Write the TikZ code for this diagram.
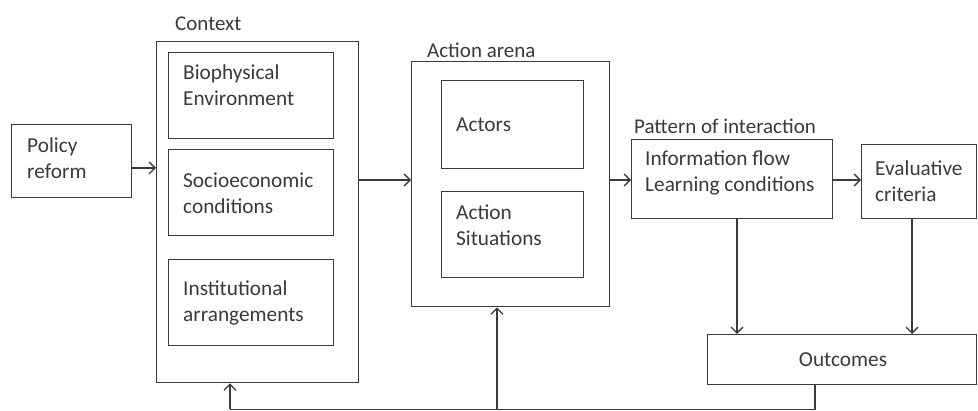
\documentclass[tikz,border=0pt]{standalone}
\usepackage{fontspec}
\setmainfont{Carlito}
\usetikzlibrary{arrows.meta,calc}
\definecolor{ink}{HTML}{3A3A3A}
\begin{document}
\begin{tikzpicture}[x=1pt,y=-1pt,
  box/.style={draw=ink,line width=1.4pt,anchor=north west,inner sep=0pt},
  txt/.style={anchor=west,align=left,inner sep=0pt,text=ink,font=\fontsize{21.3}{26.5}\selectfont},
  lbl/.style={anchor=west,inner sep=0pt,text=ink,font=\fontsize{21}{25}\selectfont},
  arr/.style={draw=ink,line width=1.3pt,-{Straight Barb[length=6pt,width=12pt,line width=1.3pt]}},
  ln/.style={draw=ink,line width=1.3pt}]
\useasboundingbox (0,0) rectangle (978,411);
% boxes
\node[box,minimum width=120pt,minimum height=73pt] (policy) at (11,124) {};
\node[box,minimum width=202pt,minimum height=341pt] (context) at (156,41) {};
\node[box,minimum width=165pt,minimum height=86pt] (bio) at (168,52) {};
\node[box,minimum width=165pt,minimum height=86pt] (socio) at (168,149) {};
\node[box,minimum width=165pt,minimum height=86pt] (inst) at (168,259) {};
\node[box,minimum width=198pt,minimum height=245pt] (arena) at (411,61) {};
\node[box,minimum width=142pt,minimum height=88pt] (actors) at (441,80) {};
\node[box,minimum width=142pt,minimum height=86pt] (situ) at (441,191) {};
\node[box,minimum width=201pt,minimum height=79pt] (pattern) at (631,139) {};
\node[box,minimum width=115pt,minimum height=74pt] (eval) at (861,144) {};
\node[box,minimum width=269pt,minimum height=50pt] (outc) at (707,334) {};
% texts
\node[txt] (tpolicy) at (27,158) {Policy\\reform};
\node[lbl] (tcontext) at (175,24) {Context};
\node[txt] (tbio) at (183,85) {Biophysical\\Environment};
\node[txt] (tsocio) at (183,193.5) {Socioeconomic\\conditions};
\node[txt] (tinst) at (183,303) {Institutional\\arrangements};
\node[lbl] (tarena) at (427,50) {Action arena};
\node[txt] (tactors) at (456,125) {Actors};
\node[txt] (tsitu) at (456,225) {Action\\Situations};
\node[lbl] (tpattern) at (634,126) {Pattern of interaction};
\node[txt] (tpat) at (645,173) {Information flow\\Learning conditions};
\node[txt] (teval) at (875,181) {Evaluative\\criteria};
\node[txt,anchor=center] (toutc) at (843,360) {Outcomes};
% helper coordinates
\coordinate (ya) at (0,168);
\coordinate (yb) at (0,180);
\coordinate (xa) at (737,0);
\coordinate (xb) at (912,0);
\coordinate (xo) at (815,0);
\coordinate (xc) at (230,0);
\coordinate (xar) at (497,0);
\coordinate (ybot) at (0,409.5);
% connectors
\draw[arr] (policy.east |- ya) -- (context.west |- ya);
\draw[arr] (context.east |- yb) -- (arena.west |- yb);
\draw[arr] (arena.east |- yb) -- (pattern.west |- yb);
\draw[arr] (pattern.east |- yb) -- (eval.west |- yb);
\draw[arr] (pattern.south -| xa) -- (outc.north -| xa);
\draw[arr] (eval.south -| xb) -- (outc.north -| xb);
\draw[ln] (outc.south -| xo) -- (xo |- ybot) -- (xc |- ybot);
\draw[arr] (xc |- ybot) -- (context.south -| xc);
\draw[arr] (xar |- ybot) -- (arena.south -| xar);
\end{tikzpicture}
\end{document}
